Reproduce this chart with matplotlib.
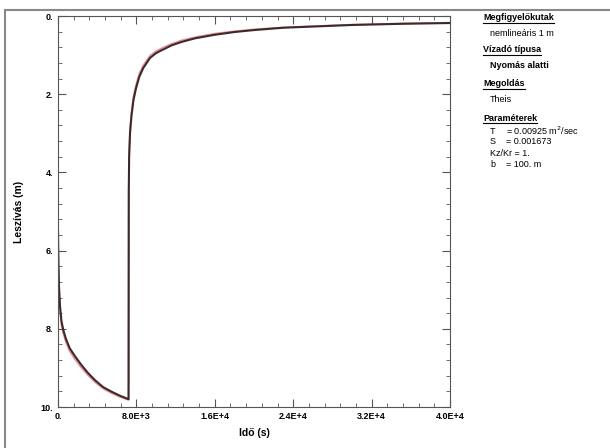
import matplotlib as mpl
mpl.use("Agg")
import matplotlib.pyplot as plt
from matplotlib.ticker import MultipleLocator, FixedLocator, FixedFormatter
from matplotlib.patches import Rectangle

plt.rcParams['font.family'] = ['Liberation Sans', 'DejaVu Sans']

# model curve (black): time in s, drawdown in m
t_model = [5, 20, 50, 100, 200, 350, 540, 800, 1200, 1730, 2400, 3060,
           3800, 4600, 5400, 6300, 7200,
           7220, 7260, 7350, 7500, 7700, 7960, 8300, 8700, 9400, 10000,
           10700, 11600, 12650, 14000, 16000, 18000, 20000, 23000, 26000,
           30000, 35000, 40000]
s_model = [5.5, 5.9, 6.4, 6.9, 7.4, 7.8, 8.03, 8.25, 8.5, 8.7, 8.93, 9.13,
           9.32, 9.49, 9.6, 9.71, 9.8,
           4.5, 3.6, 3.0, 2.55, 2.15, 1.85, 1.55, 1.33, 1.07, 0.95,
           0.86, 0.75, 0.66, 0.57, 0.48, 0.41, 0.36, 0.30, 0.27,
           0.23, 0.20, 0.18]

# observed curve (red)
t_obs = [5, 20, 50, 100, 200, 350, 540, 800, 1200, 1730, 2400, 3060,
         3800, 4600, 5400, 6300, 7200,
         7220, 7260, 7350, 7500, 7700, 7960, 8300, 8700, 9400, 10000,
         10700, 11600, 12650, 14000, 16000, 18000, 20000, 23000, 26000,
         30000, 35000, 40000]
s_obs = [5.6, 6.0, 6.5, 7.0, 7.5, 7.9, 8.12, 8.34, 8.58, 8.78, 9.0, 9.19,
         9.37, 9.53, 9.64, 9.74, 9.82,
         4.4, 3.5, 2.9, 2.45, 2.05, 1.76, 1.47, 1.26, 1.01, 0.9,
         0.81, 0.71, 0.62, 0.54, 0.45, 0.39, 0.34, 0.29, 0.26,
         0.22, 0.19, 0.17]

x_ticks = [0, 8000, 16000, 24000, 32000, 40000]
x_labels = ["0.", "8.0E+3", "1.6E+4", "2.4E+4", "3.2E+4", "4.0E+4"]
y_ticks = [0, 2, 4, 6, 8, 10]
y_labels = ["0.", "2.", "4.", "6.", "8.", "10."]

fig = plt.figure(figsize=(6.1, 4.48), dpi=100)
fig.patches.append(Rectangle((5 / 610, -0.1), 1.2, (448 - 10) / 448 + 0.1,
                             transform=fig.transFigure, fill=False,
                             edgecolor="#888888", linewidth=1.5))
ax = fig.add_axes([58 / 610, 41 / 448, 392 / 610, 391 / 448])

ax.plot(t_obs, s_obs, color="#e03040", linewidth=1.2, alpha=0.55)
ax.plot(t_model, s_model, color="#3a2a2a", linewidth=1.5)

ax.set_xlim(0, 40000)
ax.set_ylim(10, 0)
ax.xaxis.set_major_locator(FixedLocator(x_ticks))
ax.xaxis.set_major_formatter(FixedFormatter(x_labels))
ax.yaxis.set_major_locator(FixedLocator(y_ticks))
ax.yaxis.set_major_formatter(FixedFormatter(y_labels))
ax.xaxis.set_minor_locator(MultipleLocator(1600))
ax.yaxis.set_minor_locator(MultipleLocator(0.4))
ax.tick_params(which="both", direction="in", top=True, right=True,
               labelsize=6.5, color="#555555")
ax.tick_params(which="major", length=6)
ax.tick_params(which="minor", length=3)
for lab in ax.get_xticklabels() + ax.get_yticklabels():
    lab.set_fontweight("bold")
for sp in ax.spines.values():
    sp.set_color("#555555")
ax.set_xlabel("Idő (s)", fontsize=7.5, fontweight="bold", labelpad=5)
ax.set_ylabel("Leszívás (m)", fontsize=7.5, fontweight="bold", labelpad=12)

def txt(x, y, s, bold=False, under=False):
    t = fig.text(x / 610, 1 - y / 448, s, fontsize=6.5,
                 fontweight="bold" if bold else "normal", va="center")
    if under:
        fig.canvas.draw()
        bb = t.get_window_extent()
        fig.add_artist(plt.Line2D([bb.x0 / 610, bb.x1 / 610],
                                  [bb.y0 / 448 - 0.002, bb.y0 / 448 - 0.002],
                                  transform=fig.transFigure, color="black",
                                  linewidth=0.8))

txt(483, 18, "Megfigyelőkutak", bold=True, under=True)
txt(490, 33, "nemlineáris 1 m")
txt(483, 50, "Vízadó típusa", bold=True, under=True)
txt(490, 66, "Nyomás alatti", bold=True)
txt(483, 84, "Megoldás", bold=True, under=True)
txt(490, 100, "Theis")
txt(483, 118, "Paraméterek", bold=True, under=True)
txt(490, 131, "T")
txt(506, 131, "= 0.00925 m$^2$/sec")
txt(490, 142, "S")
txt(506, 142, "= 0.001673")
txt(490, 153, "Kz/Kr = 1.")
txt(490, 164, "b")
txt(506, 164, "= 100. m")

fig.savefig("out.png", dpi=100)
